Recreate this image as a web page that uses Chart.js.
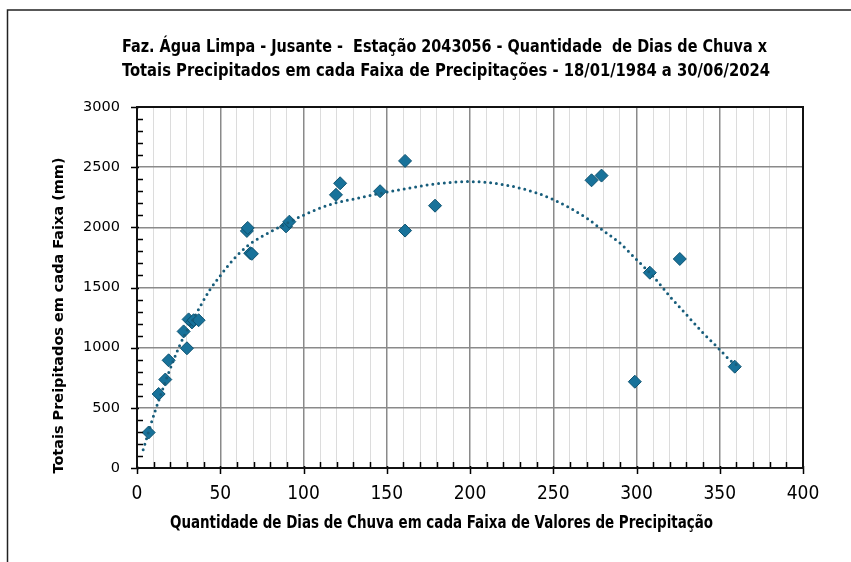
<!DOCTYPE html>
<html>
<head>
<meta charset="utf-8">
<script src="https://cdn.jsdelivr.net/npm/chart.js@4/dist/chart.umd.min.js"></script>
<style>
  html, body { margin: 0; padding: 0; background: #fff; }
  canvas { display: block; }
</style>
</head>
<body>
<canvas id="chart" width="851" height="562"></canvas>
<script>
// pontos observados (dias de chuva x total precipitado)
const diasChuva = [7, 13, 17, 19, 28, 30, 31, 33, 34, 37, 66, 66.5, 68, 69, 89.5, 91.5, 119.5, 122, 146, 161, 161, 179, 273, 279, 299, 308, 326, 359];
const totaisMm = [295, 615, 735, 895, 1135, 995, 1235, 1210, 1228, 1228, 1970, 1995, 1785, 1780, 2008, 2047, 2270, 2366, 2300, 2552, 1973, 2180, 2391, 2430, 717, 1623, 1737, 842];

// linha de tendência
const trendX = [3.7, 10.8, 25.4, 35.8, 43.8, 48.2, 57.8, 66.8, 75.8, 85.9, 99.9, 115.9, 135.9, 146, 160, 180, 200, 220, 240, 250, 260, 270, 280, 290, 300, 310, 320, 330, 340, 349, 357, 361];
const trendY = [152, 470, 1011, 1288, 1482, 1565, 1732, 1850, 1930, 2005, 2100, 2189, 2252, 2282, 2318, 2362, 2380, 2355, 2286, 2230, 2161, 2078, 1973, 1870, 1732, 1593, 1426, 1274, 1122, 998, 886, 850];

const titleLines = [
  'Faz. Água Limpa - Jusante -  Estação 2043056 - Quantidade  de Dias de Chuva x',
  'Totais Precipitados em cada Faixa de Precipitações - 18/01/1984 a 30/06/2024'
];
const xTitle = 'Quantidade de Dias de Chuva em cada Faixa de Valores de Precipitação';
const yTitle = 'Totais Preipitados em cada Faixa (mm)';

const narrow = '"Liberation Sans Narrow", "DejaVu Sans Condensed", "Roboto", sans-serif';

const decor = {
  id: 'decor',
  beforeDraw(chart) {
    const ctx = chart.ctx;
    ctx.save();
    ctx.strokeStyle = '#222';
    ctx.lineWidth = 1.5;
    ctx.beginPath();
    ctx.moveTo(7.5, 562);
    ctx.lineTo(7.5, 10);
    ctx.lineTo(851, 10);
    ctx.stroke();

    ctx.fillStyle = '#000';
    ctx.textAlign = 'center';
    ctx.textBaseline = 'middle';
    ctx.font = 'bold 18px ' + narrow;
    ctx.fillText(titleLines[0], 444.5, 47, 645);
    ctx.fillText(titleLines[1], 446, 71, 648);

    ctx.font = 'bold 18px ' + narrow;
    ctx.fillText(xTitle, 441.5, 523, 543);

    ctx.translate(59, 315.5);
    ctx.rotate(-Math.PI / 2);
    ctx.font = 'bold 14.5px "DejaVu Sans", sans-serif';
    ctx.fillText(yTitle, 0, 0, 316);
    ctx.restore();
  },
  afterDraw(chart) {
    const ctx = chart.ctx;
    const {left, right, top, bottom} = chart.chartArea;
    const xs = chart.scales.x, ys = chart.scales.y;
    ctx.save();
    ctx.strokeStyle = '#000';
    ctx.lineWidth = 1.5;
    ctx.beginPath();
    xs.ticks.forEach(t => {
      const px = Math.round(xs.getPixelForValue(t.value)) + 0.5;
      if (t.value % 50 === 0) { ctx.moveTo(px, bottom - 2); ctx.lineTo(px, bottom + 6); }
      else { ctx.moveTo(px, bottom); ctx.lineTo(px, bottom - 6); }
    });
    ys.ticks.forEach(t => {
      const py = Math.round(ys.getPixelForValue(t.value)) + 0.5;
      if (t.value % 500 === 0) { ctx.moveTo(left - 6, py); ctx.lineTo(left + 2, py); }
      else { ctx.moveTo(left, py); ctx.lineTo(left + 6, py); }
    });
    ctx.stroke();
    ctx.lineWidth = 2;
    ctx.strokeStyle = '#111';
    ctx.strokeRect(left, top, right - left, bottom - top);
    ctx.restore();
  }
};

new Chart(document.getElementById('chart'), {
  type: 'scatter',
  data: {
    datasets: [
      {
        label: 'Tendência',
        data: trendX.map((x, i) => ({x, y: trendY[i]})),
        showLine: true,
        borderColor: '#175d7b',
        borderWidth: 3,
        borderDash: [0, 5.8],
        borderCapStyle: 'round',
        cubicInterpolationMode: 'monotone',
        pointRadius: 0,
        order: 0
      },
      {
        label: 'Dias x Totais',
        data: diasChuva.map((x, i) => ({x, y: totaisMm[i]})),
        pointStyle: 'rectRot',
        pointRadius: 6.5,
        backgroundColor: '#18729a',
        borderColor: '#0d5270',
        borderWidth: 1,
        order: 1
      }
    ]
  },
  options: {
    responsive: false,
    animation: false,
    devicePixelRatio: 1,
    layout: { padding: { left: 0, top: 107, right: 48, bottom: 0 } },
    plugins: {
      legend: { display: false },
      title: { display: false },
      tooltip: { enabled: false }
    },
    scales: {
      x: {
        type: 'linear',
        min: 0,
        max: 400,
        afterFit(s) { s.height = 94; },
        ticks: {
          stepSize: 10,
          autoSkip: false,
          maxRotation: 0,
          padding: 15,
          color: '#000',
          font: { family: narrow, size: 19 },
          callback: v => (v % 50 === 0 ? v : '')
        },
        grid: {
          drawTicks: false,
          color: c => (c.tick && c.tick.value % 50 === 0 ? '#8a8a8a' : '#dcdcdc'),
          lineWidth: c => (c.tick && c.tick.value % 50 === 0 ? 1.5 : 1)
        },
        border: { display: true, color: '#000', width: 2 }
      },
      y: {
        min: 0,
        max: 3000,
        afterFit(s) { s.width = 137; },
        ticks: {
          stepSize: 100,
          autoSkip: false,
          padding: 17,
          color: '#000',
          font: { family: '"DejaVu Sans", sans-serif', size: 14.5 },
          callback: v => (v % 500 === 0 ? v : '')
        },
        grid: {
          drawTicks: false,
          color: c => (c.tick && c.tick.value % 500 === 0 ? '#8a8a8a' : 'rgba(0,0,0,0)'),
          lineWidth: 1.5
        },
        border: { display: true, color: '#000', width: 2 }
      }
    }
  },
  plugins: [decor]
});
</script>
</body>
</html>
